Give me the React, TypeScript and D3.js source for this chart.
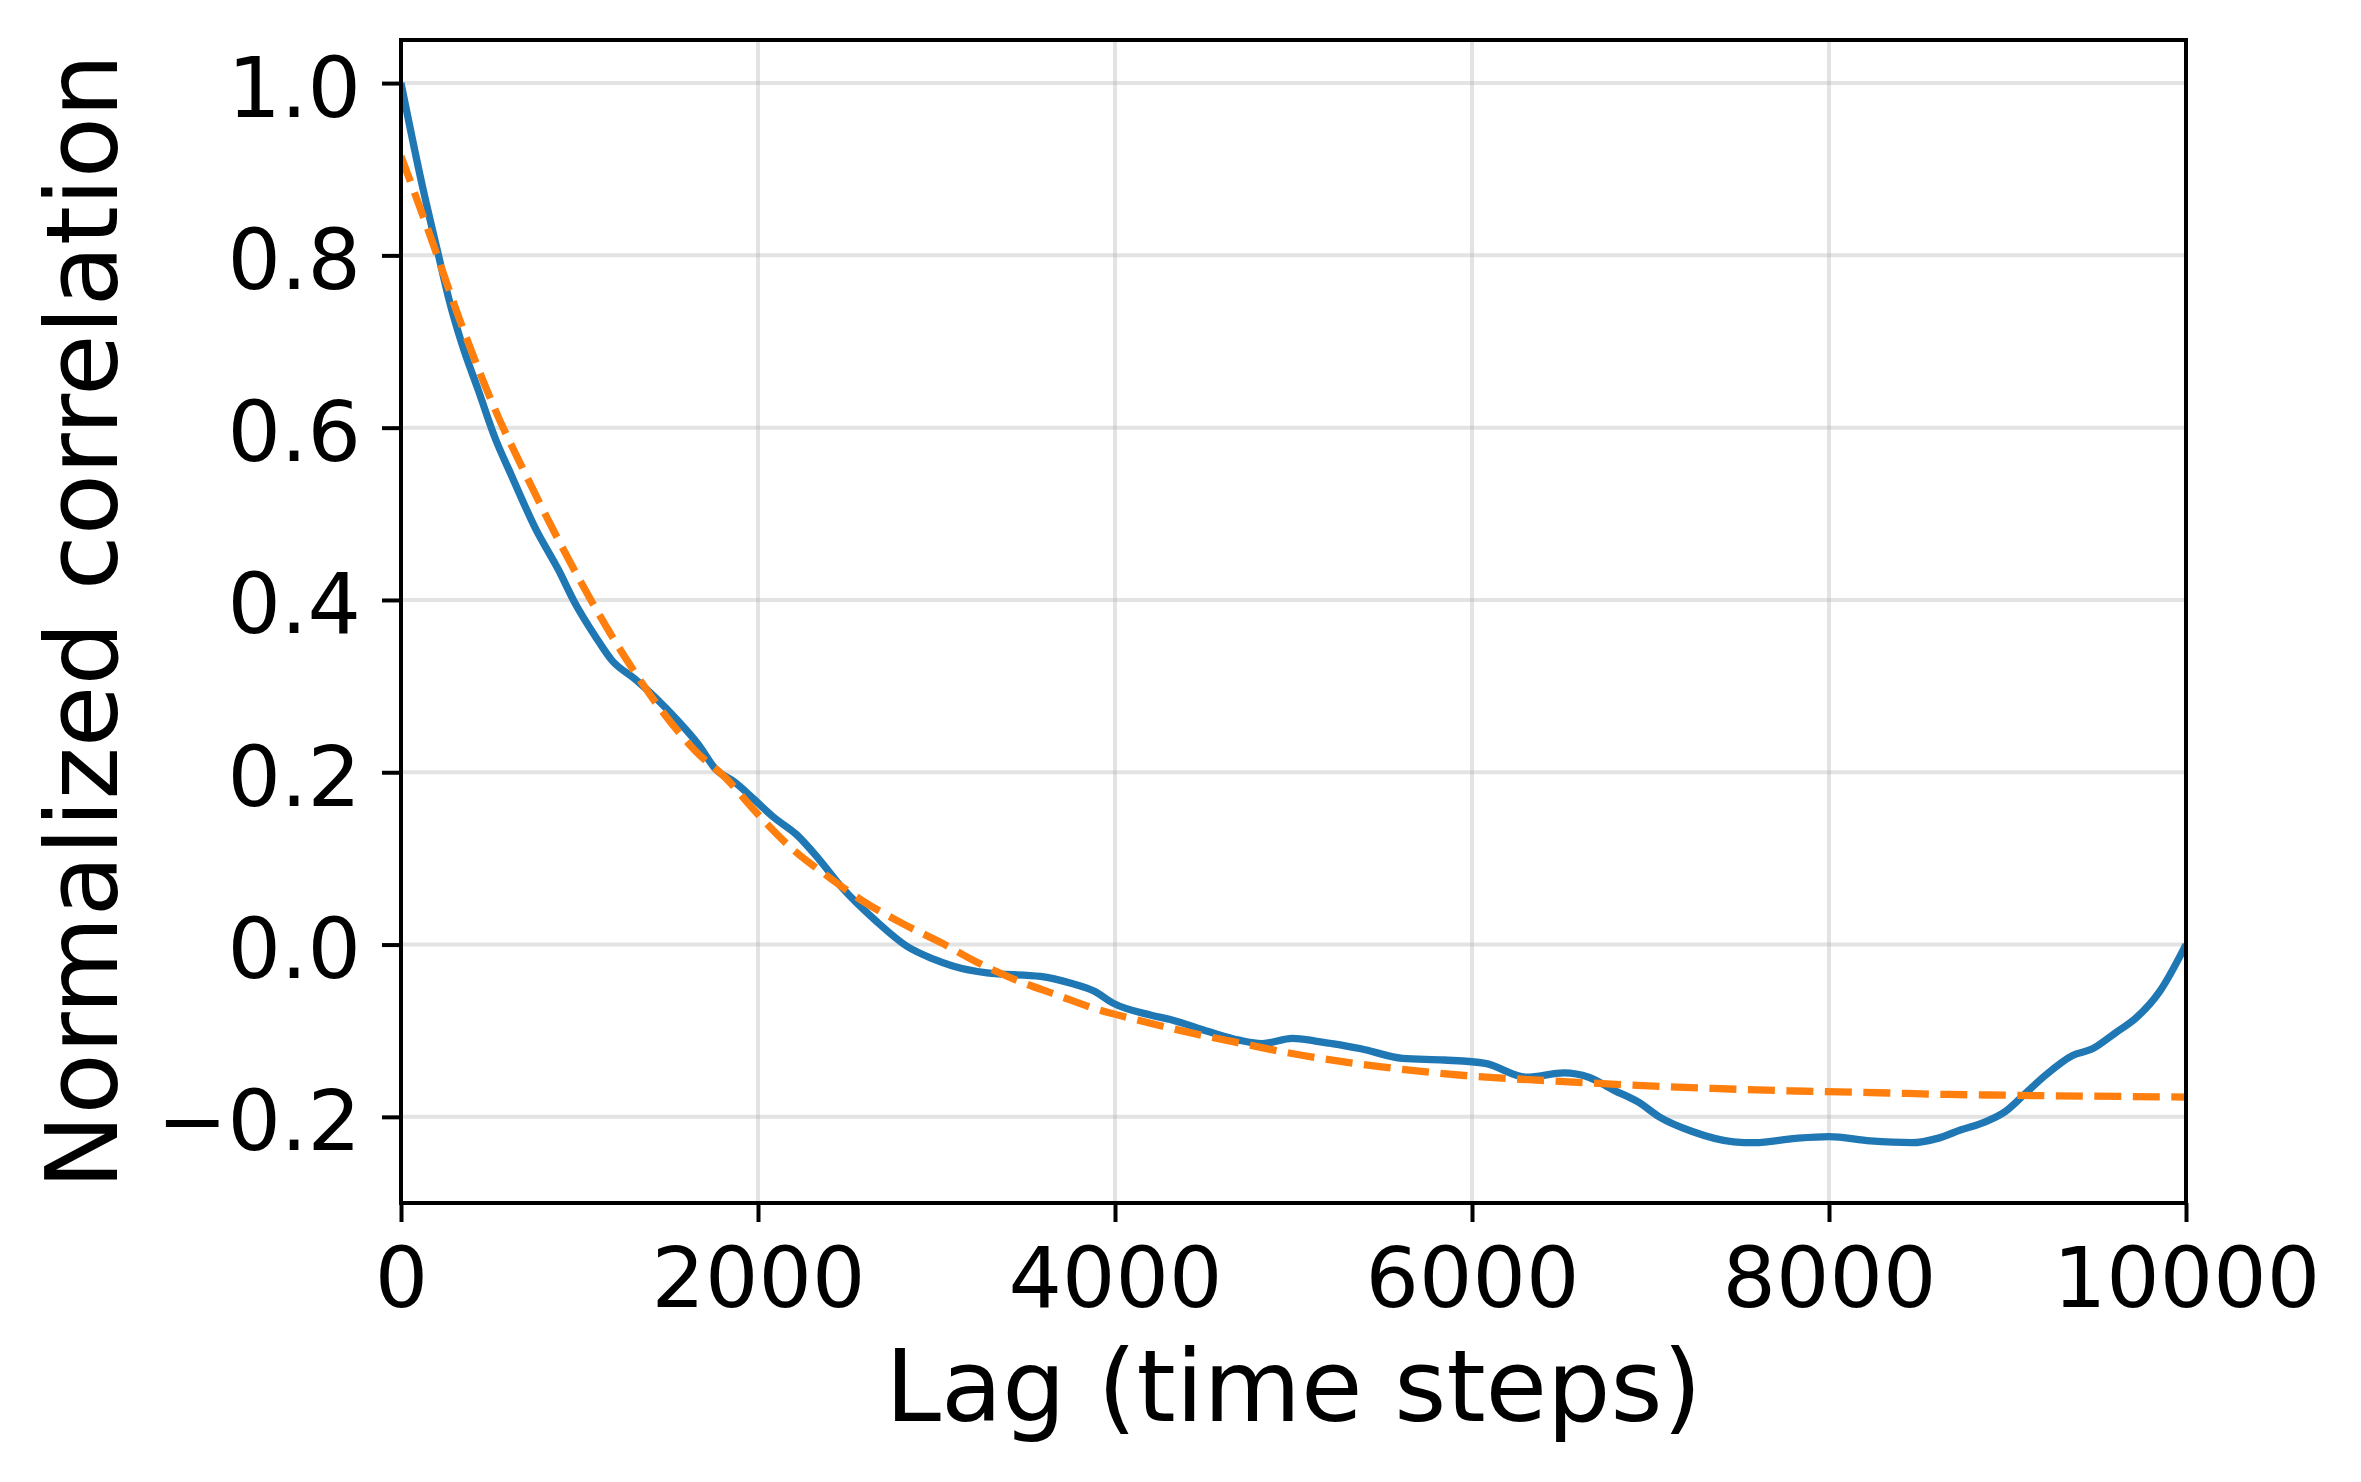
import React, { useEffect, useRef } from "react";
import * as d3 from "d3";

// measured autocorrelation (blue)
const blueLag = [0, 116, 209, 265, 340, 434, 527, 620, 751, 882, 976, 1088, 1181, 1312, 1424, 1555, 1667, 1761, 1873, 1976,
  2086, 2214, 2342, 2471, 2663, 2834, 2984, 3091, 3283, 3583, 3754, 3882, 3989, 4203, 4310, 4524, 4695, 4824, 4995, 5123,
  5216, 5378, 5610, 5842, 6074, 6306, 6515, 6654, 6794, 6933, 7049, 7234, 7466, 7582, 7814, 8000, 8232, 8464, 8608, 8740,
  8872, 8986, 9099, 9211, 9362, 9476, 9608, 9721, 9854, 10000];
const blueCorr = [1.0, 0.884, 0.801, 0.752, 0.698, 0.643, 0.588, 0.544, 0.484, 0.435, 0.396, 0.358, 0.330, 0.308, 0.287, 0.259, 0.232, 0.204, 0.188, 0.169,
  0.148, 0.128, 0.099, 0.066, 0.027, -0.002, -0.017, -0.025, -0.033, -0.037, -0.045, -0.054, -0.068, -0.082, -0.087, -0.101, -0.111, -0.115, -0.109, -0.112,
  -0.115, -0.121, -0.132, -0.134, -0.138, -0.154, -0.149, -0.154, -0.169, -0.183, -0.200, -0.217, -0.229, -0.230, -0.225, -0.223, -0.228, -0.230, -0.225, -0.215,
  -0.206, -0.194, -0.173, -0.152, -0.129, -0.121, -0.102, -0.085, -0.054, 0.0];

// exponential fit (orange dashed)
const fitLag = [0, 153, 340, 527, 714, 901, 1088, 1275, 1462, 1648, 1835, 1957, 2171, 2385, 2599, 2813, 3027, 3241, 3455, 3668,
  3882, 4096, 4310, 4524, 4738, 4952, 5494, 5958, 6422, 6886, 7350, 7814, 8278, 8668, 9043, 10000];
const fitCorr = [0.915, 0.829, 0.719, 0.621, 0.539, 0.462, 0.391, 0.327, 0.271, 0.225, 0.190, 0.161, 0.115, 0.080, 0.049, 0.024, 0.002, -0.022, -0.042, -0.058,
  -0.074, -0.086, -0.097, -0.107, -0.116, -0.125, -0.142, -0.152, -0.158, -0.163, -0.167, -0.170, -0.172, -0.174, -0.175, -0.177];

const xTicks = [0, 2000, 4000, 6000, 8000, 10000];
const yTicks = [-0.2, 0.0, 0.2, 0.4, 0.6, 0.8, 1.0];

export default function App() {
  const ref = useRef<SVGSVGElement>(null);

  useEffect(() => {
    document.body.style.margin = "0";
    const width = 2361, height = 1482;
    const margin = { top: 40, right: 175, bottom: 279, left: 401 };
    const w = width - margin.left - margin.right;
    const h = height - margin.top - margin.bottom;
    const font = "DejaVu Sans";

    const svg = d3.select(ref.current);
    svg.selectAll("*").remove();
    svg.append("rect").attr("width", width).attr("height", height).attr("fill", "white");

    const g = svg.append("g").attr("transform", `translate(${margin.left},${margin.top})`);
    const x = d3.scaleLinear().domain([0, 10000]).range([0, w]);
    const y = d3.scaleLinear().domain([-0.3, 1.05]).range([h, 0]);

    // grid
    g.append("g").selectAll("line").data(xTicks).join("line")
      .attr("x1", d => x(d)).attr("x2", d => x(d)).attr("y1", 0).attr("y2", h)
      .attr("stroke", "#b0b0b0").attr("stroke-opacity", 0.35).attr("stroke-width", 4);
    g.append("g").selectAll("line").data(yTicks).join("line")
      .attr("x1", 0).attr("x2", w).attr("y1", d => y(d)).attr("y2", d => y(d))
      .attr("stroke", "#b0b0b0").attr("stroke-opacity", 0.35).attr("stroke-width", 4);

    svg.append("clipPath").attr("id", "plot-clip")
      .append("rect").attr("width", w).attr("height", h);

    const lines = g.append("g").attr("clip-path", "url(#plot-clip)");

    const blue = d3.line<number>()
      .x((d, i) => x(blueLag[i]))
      .y(d => y(d))
      .curve(d3.curveMonotoneX);
    lines.append("path").datum(blueCorr)
      .attr("fill", "none").attr("stroke", "#1f77b4").attr("stroke-width", 7.3)
      .attr("stroke-linejoin", "round")
      .attr("d", blue);

    const fit = d3.line<number>()
      .x((d, i) => x(fitLag[i]))
      .y(d => y(d))
      .curve(d3.curveMonotoneX);
    lines.append("path").datum(fitCorr)
      .attr("fill", "none").attr("stroke", "#ff7f0e").attr("stroke-width", 7.3)
      .attr("stroke-dasharray", "27,11.5")
      .attr("d", fit);

    // axes
    const xAxis = g.append("g").attr("transform", `translate(0,${h})`)
      .call(d3.axisBottom(x).tickValues(xTicks).tickFormat(d3.format("d")).tickSize(19));
    xAxis.select(".domain").remove();
    xAxis.selectAll("line").attr("stroke", "black").attr("stroke-width", 4);
    xAxis.selectAll("text")
      .attr("y", 104).attr("dy", 0)
      .attr("fill", "black")
      .style("font-family", font).style("font-size", "84px");

    const yAxis = g.append("g")
      .call(d3.axisLeft(y).tickValues(yTicks).tickFormat(d3.format(".1f")).tickSize(19));
    yAxis.select(".domain").remove();
    yAxis.selectAll("line").attr("stroke", "black").attr("stroke-width", 4);
    yAxis.selectAll("text")
      .attr("x", -40).attr("dy", 33)
      .attr("fill", "black")
      .style("font-family", font).style("font-size", "84px");

    // frame
    g.append("rect").attr("width", w).attr("height", h)
      .attr("fill", "none").attr("stroke", "black").attr("stroke-width", 4);

    // labels
    svg.append("text")
      .attr("x", margin.left + w / 2).attr("y", 1421)
      .attr("text-anchor", "middle")
      .style("font-family", font).style("font-size", "100px")
      .text("Lag (time steps)");

    svg.append("text")
      .attr("transform", `translate(117,${margin.top + h / 2}) rotate(-90)`)
      .attr("text-anchor", "middle")
      .style("font-family", font).style("font-size", "100px")
      .text("Normalized correlation");
  }, []);

  return <svg ref={ref} width={2361} height={1482} style={{ display: "block" }} />;
}
